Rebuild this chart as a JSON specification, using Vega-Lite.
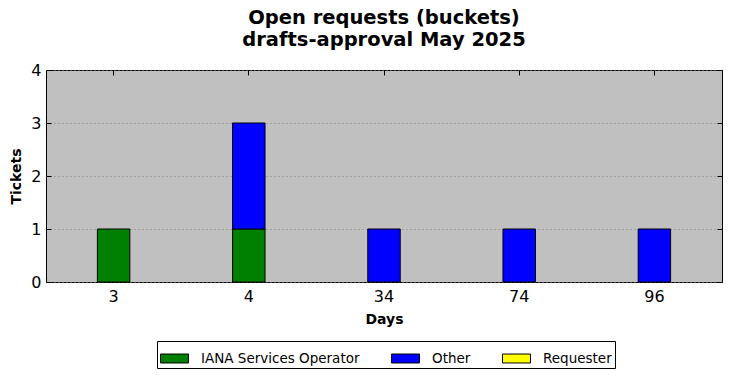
{
  "$schema": "https://vega.github.io/schema/vega-lite/v6.json",
  "autosize": "none",
  "width": 676,
  "height": 212,
  "padding": {"left": 46, "top": 70, "right": 10, "bottom": 96},
  "background": "white",
  "title": {
    "text": ["Open requests (buckets)", "drafts-approval May 2025"],
    "fontSize": 19.5,
    "fontWeight": "bold",
    "font": "DejaVu Sans",
    "color": "black",
    "anchor": "middle",
    "lineHeight": 22,
    "offset": 12
  },
  "config": {
    "view": {"fill": "#c0c0c0", "stroke": "black", "strokeWidth": 1},
    "font": "DejaVu Sans",
    "axis": {
      "domain": false,
      "labelFont": "DejaVu Sans",
      "labelFontSize": 16,
      "labelColor": "black",
      "tickColor": "black",
      "tickSize": -5,
      "tickWidth": 1,
      "titleFont": "DejaVu Sans",
      "titleFontSize": 14,
      "titleFontWeight": "bold",
      "titleColor": "black"
    }
  },
  "data": {
    "values": [
      {"Days": "3", "Category": "IANA Services Operator", "Tickets": 1},
      {"Days": "4", "Category": "IANA Services Operator", "Tickets": 1},
      {"Days": "4", "Category": "Other", "Tickets": 2},
      {"Days": "34", "Category": "Other", "Tickets": 1},
      {"Days": "74", "Category": "Other", "Tickets": 1},
      {"Days": "96", "Category": "Other", "Tickets": 1}
    ]
  },
  "layer": [
    {
      "mark": {"type": "bar", "stroke": "black", "strokeWidth": 1},
      "encoding": {
        "x": {
          "field": "Days",
          "type": "nominal",
          "scale": {"domain": ["3", "4", "34", "74", "96"], "paddingInner": 0.76, "paddingOuter": 0.38},
          "axis": {"title": "Days", "labelAngle": 0, "labelPadding": 11, "titlePadding": 8, "grid": false}
        },
        "y": {
          "field": "Tickets",
          "type": "quantitative",
          "aggregate": "sum",
          "stack": "zero",
          "scale": {"domain": [0, 4], "nice": false},
          "axis": {
            "title": "Tickets",
            "values": [0, 1, 2, 3, 4],
            "labelPadding": 10,
            "titlePadding": 7,
            "grid": true,
            "gridColor": "#808080",
            "gridDash": [1, 3],
            "gridWidth": 1
          }
        },
        "color": {
          "field": "Category",
          "type": "nominal",
          "scale": {
            "domain": ["IANA Services Operator", "Other", "Requester"],
            "range": ["#008000", "#0000ff", "#ffff00"]
          },
          "legend": {
            "title": null,
            "orient": "none",
            "legendX": 111,
            "legendY": 271,
            "direction": "horizontal",
            "columns": 3,
            "columnPadding": 29,
            "strokeColor": "black",
            "fillColor": "white",
            "padding": 3,
            "symbolType": "M-1,-0.32H1V0.32H-1Z",
            "symbolSize": 784,
            "symbolStrokeColor": "black",
            "symbolStrokeWidth": 1,
            "symbolOpacity": 1,
            "labelFontSize": 13.5,
            "labelFont": "DejaVu Sans",
            "labelColor": "black",
            "labelOffset": 12,
            "labelLimit": 400
          }
        },
        "order": {"field": "Category", "sort": "ascending"}
      }
    },
    {
      "mark": {"type": "bar", "opacity": 0},
      "encoding": {
        "x": {
          "field": "Days",
          "type": "nominal",
          "axis": {"orient": "top", "labels": false, "title": null, "grid": false}
        },
        "y": {
          "field": "Tickets",
          "type": "quantitative",
          "aggregate": "sum",
          "axis": {"orient": "right", "labels": false, "title": null, "grid": false, "values": [0, 1, 2, 3, 4]}
        }
      }
    }
  ],
  "resolve": {"axis": {"x": "independent", "y": "independent"}}
}
